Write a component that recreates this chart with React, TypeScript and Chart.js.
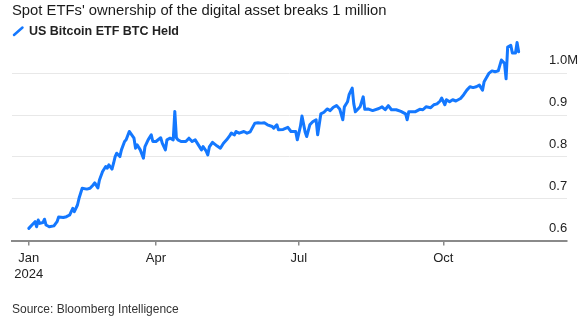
import React, { useEffect, useRef } from "react";
import { Chart, registerables } from "chart.js";

Chart.register(...registerables);

// Days since 2024-01-11 (first day of spot ETF trading)
const dayOffsets = [
  0, 2, 4, 5, 6, 7, 9, 10, 11, 13, 16, 18, 19, 22, 24, 26, 28, 29, 31, 32,
  34, 37, 39, 41, 42, 44, 45, 47, 49, 50, 51, 53, 54, 55, 56, 58, 59, 61, 62, 64,
  67, 68, 69, 71, 73, 74, 76, 78, 79, 81, 84, 85, 87, 88, 90, 92, 93, 94, 95, 97,
  100, 102, 104, 106, 108, 110, 111, 113, 114, 115, 117, 120, 122, 124, 126, 128, 129, 131, 132, 134,
  137, 139, 141, 144, 146, 148, 150, 152, 155, 156, 158, 159, 162, 165, 167, 170, 171, 173, 174, 176,
  177, 179, 181, 183, 184, 186, 188, 190, 192, 194, 196, 198, 200, 201, 203, 204, 206, 207, 208, 210,
  211, 213, 214, 216, 219, 223, 225, 227, 229, 231, 234, 237, 240, 241, 242, 246, 249, 251, 253, 256,
  258, 260, 262, 263, 265, 266, 268, 270, 272, 275, 277, 279, 281, 283, 285, 287, 289, 290, 293, 295,
  297, 299, 301, 303, 304, 305, 307, 308, 310, 311, 312,
];

// US Bitcoin ETF BTC held, millions of BTC
const btcHeld = [
  0.629, 0.637, 0.645, 0.633, 0.649, 0.641, 0.643, 0.651, 0.637, 0.633, 0.635, 0.645, 0.656, 0.655, 0.657, 0.661, 0.677, 0.669, 0.685, 0.701,
  0.725, 0.723, 0.725, 0.733, 0.738, 0.726, 0.745, 0.765, 0.777, 0.773, 0.781, 0.771, 0.785, 0.801, 0.809, 0.801, 0.817, 0.837, 0.841, 0.861,
  0.845, 0.821, 0.829, 0.817, 0.797, 0.825, 0.841, 0.853, 0.837, 0.837, 0.846, 0.833, 0.817, 0.841, 0.845, 0.841, 0.909, 0.846, 0.841, 0.837,
  0.837, 0.845, 0.837, 0.841, 0.829, 0.817, 0.825, 0.814, 0.805, 0.824, 0.835, 0.826, 0.821, 0.833, 0.841, 0.851, 0.857, 0.853, 0.861, 0.857,
  0.861, 0.857, 0.86, 0.881, 0.882, 0.881, 0.882, 0.877, 0.873, 0.869, 0.877, 0.865, 0.866, 0.871, 0.861, 0.861, 0.841, 0.873, 0.898, 0.86,
  0.849, 0.877, 0.885, 0.889, 0.853, 0.903, 0.907, 0.915, 0.911, 0.919, 0.923, 0.915, 0.889, 0.92, 0.932, 0.949, 0.965, 0.927, 0.908, 0.916,
  0.92, 0.944, 0.914, 0.915, 0.911, 0.916, 0.92, 0.913, 0.923, 0.913, 0.913, 0.909, 0.903, 0.889, 0.908, 0.908, 0.914, 0.913, 0.92, 0.918,
  0.925, 0.927, 0.934, 0.941, 0.925, 0.937, 0.932, 0.937, 0.934, 0.94, 0.949, 0.96, 0.968, 0.966, 0.968, 0.972, 0.96, 0.98, 1.0, 1.006,
  1.004, 1.006, 1.032, 1.024, 0.987, 1.063, 1.067, 1.049, 1.049, 1.074, 1.052,
];

const xTickDays = [0, 81, 172, 264];
const xTickLabels: (string | string[])[] = [["Jan", "2024"], "Apr", "Jul", "Oct"];
const yTickValues = [0.6, 0.7, 0.8, 0.9, 1.0];
const yTickLabels = ["0.6", "0.7", "0.8", "0.9", "1.0M"];

const TITLE = "Spot ETFs' ownership of the digital asset breaks 1 million";
const SERIES = "US Bitcoin ETF BTC Held";
const SOURCE = "Source: Bloomberg Intelligence";

const BLUE = "#1478ff";
const FONT = "'Liberation Sans', Arial, sans-serif";

export default function App() {
  const canvasRef = useRef<HTMLCanvasElement | null>(null);

  useEffect(() => {
    if (!canvasRef.current) return;
    Chart.defaults.font.family = FONT;
    const chart = new Chart(canvasRef.current, {
      type: "line",
      data: {
        datasets: [
          {
            label: SERIES,
            data: dayOffsets.map((d, i) => ({ x: d, y: btcHeld[i] })),
            borderColor: BLUE,
            borderWidth: 3,
            pointRadius: 0,
            tension: 0,
            borderJoinStyle: "round",
            borderCapStyle: "round",
            fill: false,
          },
        ],
      },
      options: {
        animation: false,
        responsive: false,
        devicePixelRatio: 1,
        layout: { padding: { left: 12, right: 18, top: 40, bottom: 0 } },
        plugins: { legend: { display: false }, title: { display: false }, tooltip: { enabled: false } },
        scales: {
          x: {
            type: "linear",
            min: -10.7,
            max: 342.8,
            afterBuildTicks: (s: any) => {
              s.ticks = xTickDays.map((v) => ({ value: v }));
            },
            afterFit: (s: any) => {
              s.height = 80.5;
            },
            ticks: {
              autoSkip: false,
              maxRotation: 0,
              padding: 4,
              color: "#222",
              font: { size: 13, lineHeight: 1.3 },
              callback: (_v: any, i: number) => xTickLabels[i],
            },
            grid: {
              drawOnChartArea: false,
              drawTicks: true,
              tickLength: 5,
              color: "#8a8a8a",
              lineWidth: 1.5,
            },
            border: { display: true, color: "#8a8a8a", width: 2 },
          },
          y: {
            position: "right",
            min: 0.6,
            max: 1.08,
            afterBuildTicks: (s: any) => {
              s.ticks = yTickValues.map((v) => ({ value: v }));
            },
            afterFit: (s: any) => {
              s.width = 0;
            },
            grid: { color: "#e8e8e8", lineWidth: 1, drawTicks: false },
            border: { display: false },
            ticks: {
              mirror: true,
              crossAlign: "far",
              padding: 11,
              labelOffset: -12.5,
              color: "#222",
              font: { size: 13 },
              callback: (_v: any, i: number) => yTickLabels[i],
            },
          },
        },
      },
    } as any);
    return () => chart.destroy();
  }, []);

  return (
    <div style={{ position: "absolute", left: 0, top: 0, width: 585, height: 321, background: "#fff", fontFamily: FONT }}>
      <canvas ref={canvasRef} width={585} height={321} style={{ position: "absolute", left: 0, top: 0, width: 585, height: 321 }} />
      <div style={{ position: "absolute", left: 12, top: 3, fontSize: 14.8, lineHeight: "14.8px", color: "#1a1a1a", whiteSpace: "nowrap" }}>
        {TITLE}
      </div>
      <svg style={{ position: "absolute", left: 0, top: 0 }} width={40} height={45}>
        <line x1={14} y1={35} x2={22.5} y2={27.5} stroke={BLUE} strokeWidth={2.5} strokeLinecap="round" />
      </svg>
      <div style={{ position: "absolute", left: 29, top: 25.4, fontSize: 12.5, lineHeight: "12.5px", fontWeight: 700, color: "#222", whiteSpace: "nowrap" }}>
        {SERIES}
      </div>
      <div style={{ position: "absolute", left: 12, top: 303, fontSize: 12, lineHeight: "12px", color: "#333", whiteSpace: "nowrap" }}>
        {SOURCE}
      </div>
    </div>
  );
}
